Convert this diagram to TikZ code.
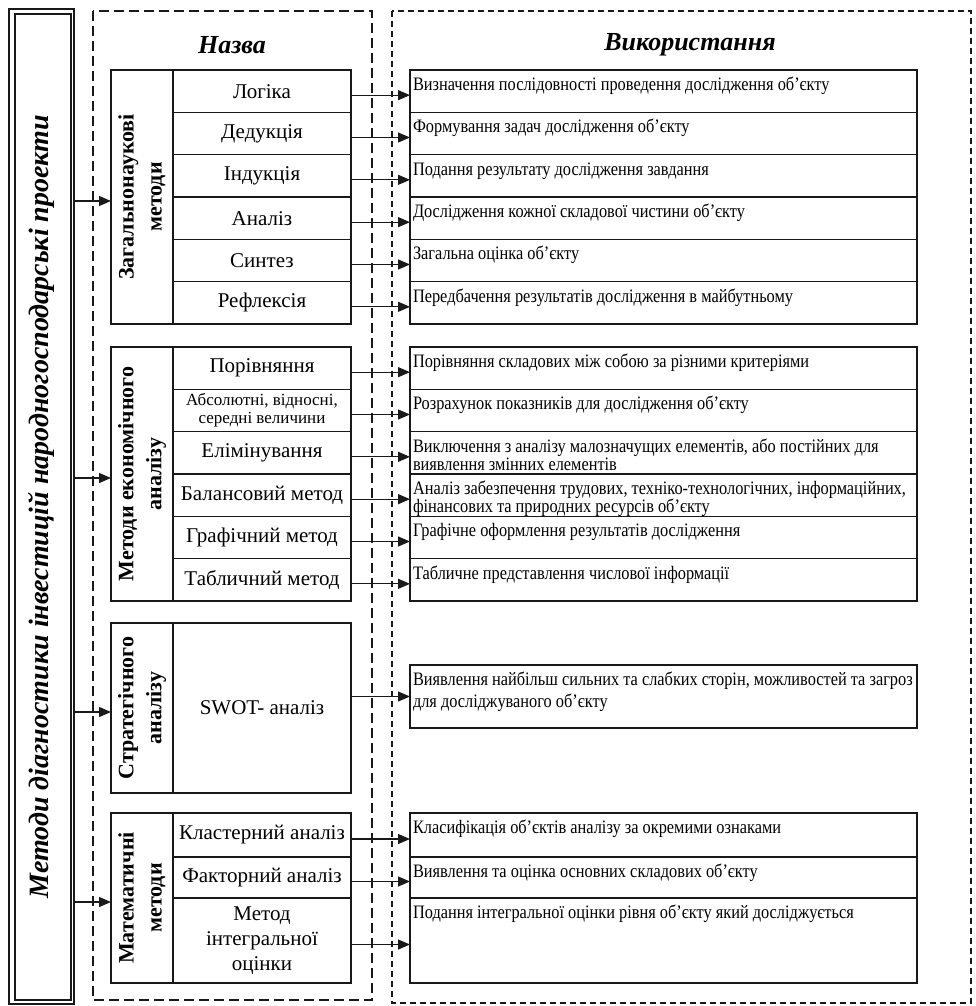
\documentclass[tikz,border=0pt]{standalone}
\usepackage{fontspec}
\setmainfont{Liberation Serif}
\newfontfamily\usagefont{Liberation Serif}[FakeStretch=0.86]
\usetikzlibrary{positioning,arrows.meta}
\newlength{\cellwidth}
\newlength{\cellheight}
\newlength{\labelcolwidth}
\newlength{\usagewidth}
\newlength{\grouptall}
\newlength{\groupshort}
\setlength{\cellwidth}{178pt}
\setlength{\cellheight}{42.33pt}
\setlength{\labelcolwidth}{62pt}
\setlength{\usagewidth}{507pt}
\setlength{\grouptall}{254pt}
\setlength{\groupshort}{170pt}
\definecolor{framecolor}{RGB}{25,25,25}
\definecolor{textcolor}{RGB}{0,0,0}
\newcommand{\usagecell}[4]{
	\node[usageframe, minimum height=#3, #2] (#1) {};
	\node[usagetext] at ([shift={(3pt,-6.5pt)}]#1.north west) {\rule{0pt}{14pt}#4};
}
\tikzstyle{every node} = [inner sep=0, outer sep=0, text=textcolor]
\tikzstyle{frameline} = [draw=framecolor, line width=1.3pt]
\tikzstyle{namearea} = [draw=framecolor, line width=1.2pt, dash pattern=on 10pt off 5pt]
\tikzstyle{usagearea} = [draw=framecolor, line width=1.2pt, dash pattern=on 6pt off 4pt]
\tikzstyle{heading} = [font=\fontsize{26}{30}\selectfont\bfseries\itshape]
\tikzstyle{maintext} = [rotate=90, font=\fontsize{28}{30}\selectfont\bfseries\itshape]
\tikzstyle{grouplabel} = [frameline, minimum width=\labelcolwidth, anchor=north west]
\tikzstyle{labeltext} = [rotate=90, align=center, font=\fontsize{22}{28}\selectfont\bfseries]
\tikzstyle{cell} = [frameline, minimum width=\cellwidth, minimum height=\cellheight, anchor=north west, align=center, font=\fontsize{21}{25}\selectfont]
\tikzstyle{usageframe} = [frameline, minimum width=\usagewidth, anchor=north west]
\tikzstyle{usagetext} = [anchor=north west, align=left, font=\usagefont\fontsize{19}{18}\selectfont]
\tikzstyle{conn} = [->, >={Triangle[length=12pt, width=10pt]}, draw=framecolor, line width=1.3pt]

\begin{document}
\begin{tikzpicture}[x=1pt, y=-1pt]
		\useasboundingbox (0,0) rectangle (976,1006);
		
		% outer frame and dashed areas
		\node[frameline, minimum width=65pt, minimum height=995pt] (main) at (41.5,506.5) {};
		\draw[frameline] (15,14) rectangle (71,1000);
		\node[maintext] at (main) {Методи діагностики інвестицій народногосподарські проекти};
		\draw[namearea] (93,11) rectangle (372,1000);
		\draw[usagearea] (392,11) rectangle (971,1003);
		\node[heading] at (232,45) {Назва};
		\node[heading] at (690,45) {Використання};
		
		% group 1
		\node[grouplabel, minimum height=\grouptall] (g1) at (111,70) {};
		\node[labeltext] at (g1) {Загальнонаукові\\методи};
		\node[cell] (m11) at (173,70) {Логіка};
		\node[cell, below=0pt of m11] (m12) {Дедукція};
		\node[cell, below=0pt of m12] (m13) {Індукція};
		\node[cell, below=0pt of m13] (m14) {Аналіз};
		\node[cell, below=0pt of m14] (m15) {Синтез};
		\node[cell, below=0pt of m15] (m16) {Рефлексія};
		\usagecell{u11}{at={(410,70)}}{\cellheight}{Визначення послідовності проведення дослідження об’єкту}
		\usagecell{u12}{below=0pt of u11}{\cellheight}{Формування задач дослідження об’єкту}
		\usagecell{u13}{below=0pt of u12}{\cellheight}{Подання результату дослідження завдання}
		\usagecell{u14}{below=0pt of u13}{\cellheight}{Дослідження кожної складової чистини об’єкту}
		\usagecell{u15}{below=0pt of u14}{\cellheight}{Загальна оцінка об’єкту}
		\usagecell{u16}{below=0pt of u15}{\cellheight}{Передбачення результатів дослідження в майбутньому}
		
		% group 2
		\node[grouplabel, minimum height=\grouptall] (g2) at (111,347) {};
		\node[labeltext] at (g2) {Методи економічного\\аналізу};
		\node[cell] (m21) at (173,347) {Порівняння};
		\node[cell, below=0pt of m21, font=\fontsize{17}{18}\selectfont] (m22) {Абсолютні, відносні,\\середні величини};
		\node[cell, below=0pt of m22] (m23) {Елімінування};
		\node[cell, below=0pt of m23] (m24) {Балансовий метод};
		\node[cell, below=0pt of m24] (m25) {Графічний метод};
		\node[cell, below=0pt of m25] (m26) {Табличний метод};
		\usagecell{u21}{at={(410,347)}}{\cellheight}{Порівняння складових між собою за різними критеріями}
		\usagecell{u22}{below=0pt of u21}{\cellheight}{Розрахунок показників для дослідження об’єкту}
		\usagecell{u23}{below=0pt of u22}{\cellheight}{Виключення з аналізу малозначущих елементів, або постійних для\\виявлення змінних елементів}
		\usagecell{u24}{below=0pt of u23}{\cellheight}{Аналіз забезпечення трудових, техніко-технологічних, інформаційних,\\фінансових та природних ресурсів об’єкту}
		\usagecell{u25}{below=0pt of u24}{\cellheight}{Графічне оформлення результатів дослідження}
		\usagecell{u26}{below=0pt of u25}{\cellheight}{Табличне представлення числової інформації}
		
		% group 3
		\node[grouplabel, minimum height=\groupshort] (g3) at (111,623) {};
		\node[labeltext] at (g3) {Стратегічного\\аналізу};
		\node[cell, minimum height=\groupshort] (m31) at (173,623) {SWOT- аналіз};
		\usagecell{u31}{at={(410,665)}}{63pt}{Виявлення найбільш сильних та слабких сторін, можливостей та загроз\\[4pt]для досліджуваного об’єкту}
		
		% group 4
		\node[grouplabel, minimum height=\groupshort] (g4) at (111,813) {};
		\node[labeltext] at (g4) {Математичні\\методи};
		\node[cell, minimum height=44pt] (m41) at (173,813) {Кластерний аналіз};
		\node[cell, minimum height=41pt, below=0pt of m41] (m42) {Факторний аналіз};
		\node[cell, minimum height=85pt, below=0pt of m42] (m43) {Метод\\інтегральної\\оцінки};
		\usagecell{u41}{at={(410,813)}}{44pt}{Класифікація об’єктів аналізу за окремими ознаками}
		\usagecell{u42}{below=0pt of u41}{41pt}{Виявлення та оцінка основних складових об’єкту}
		\usagecell{u43}{below=0pt of u42}{85pt}{Подання інтегральної оцінки рівня об’єкту який досліджується}
		
		% connectors
		\foreach \g in {1,2,3,4}
			\draw[conn] ([yshift=-4pt]main.east |- g\g.west) -- ([yshift=-4pt]g\g.west);
		\foreach \g/\r in {1/1,1/2,1/3,1/4,1/5,1/6,2/1,2/2,2/3,2/4,2/5,2/6,4/1,4/2,4/3}
			\draw[conn] ([yshift=-4pt]m\g\r.east) -- ([yshift=-4pt]u\g\r.west);
		\draw[conn] (m31.east |- u31.west) -- (u31.west);
		
	\end{tikzpicture}
\end{document}
